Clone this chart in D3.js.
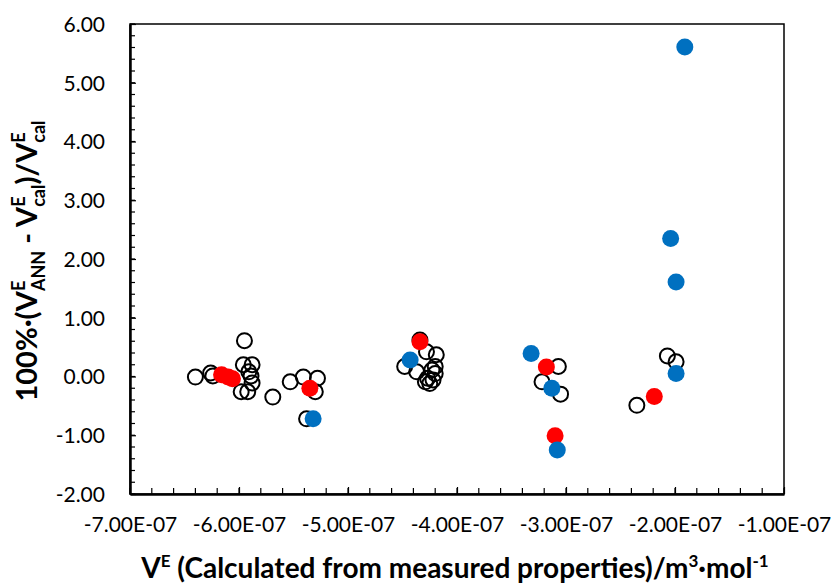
<!DOCTYPE html>
<html><head><meta charset="utf-8">
<script src="https://cdn.jsdelivr.net/npm/d3@7"></script>
<style>body{margin:0;background:#fff}svg{display:block}text{font-family:Lato,"Open Sans",sans-serif}</style>
</head><body><svg id="c" width="837" height="584"></svg>
<script>
// x in m3/mol, y in %
const openX = [-6.40e-7,-6.26e-7,-6.24e-7,-5.95e-7,-5.96e-7,-5.88e-7,-5.91e-7,-5.89e-7,-5.88e-7,-5.98e-7,-5.92e-7,-5.69e-7,-5.53e-7,-5.41e-7,-5.28e-7,-5.30e-7,-5.38e-7,
  -4.48e-7,-4.34e-7,-4.28e-7,-4.19e-7,-4.37e-7,-4.23e-7,-4.20e-7,-4.29e-7,-4.25e-7,-4.22e-7,-4.27e-7,-4.20e-7,
  -3.07e-7,-3.22e-7,-3.05e-7,
  -2.07e-7,-1.99e-7,-2.35e-7];
const openY = [-0.01,0.06,0.01,0.61,0.20,0.20,0.08,0.01,-0.11,-0.26,-0.26,-0.35,-0.09,-0.01,-0.03,-0.26,-0.72,
  0.17,0.62,0.42,0.37,0.08,0.11,0.05,-0.09,-0.12,-0.06,-0.03,0.17,
  0.17,-0.09,-0.30,
  0.35,0.25,-0.49];
const redX = [-6.16e-7,-6.10e-7,-6.06e-7,-5.35e-7,-4.34e-7,-3.18e-7,-3.10e-7,-2.19e-7];
const redY = [0.03,-0.01,-0.04,-0.20,0.59,0.16,-1.01,-0.34];
const blueX = [-5.32e-7,-4.43e-7,-3.32e-7,-3.13e-7,-3.08e-7,-1.91e-7,-2.04e-7,-1.99e-7,-1.99e-7];
const blueY = [-0.72,0.28,0.39,-0.20,-1.25,5.61,2.35,1.61,0.05];
const xTicks = [-7e-7,-6e-7,-5e-7,-4e-7,-3e-7,-2e-7,-1e-7];
const yTicks = [-2,-1,0,1,2,3,4,5,6];

const svg = d3.select("#c");
const L=130,R=784,T=24,B=494;
const x = d3.scaleLinear().domain([-7e-7,-1e-7]).range([L,R]);
const y = d3.scaleLinear().domain([-2,6]).range([B,T]);

const fmtX = v => v.toExponential(2).toUpperCase().replace(/E([+-])(\d)$/,"E$10$2");
const fmtY = v => v.toFixed(2);

// frame
svg.append("rect").attr("x",L).attr("y",T).attr("width",R-L).attr("height",B-T)
  .attr("fill","none").attr("stroke","#000").attr("stroke-width",1.5);

// minor ticks
const xMinor = d3.range(0,31).map(i=>-7e-7+i*0.2e-7);
const yMinor = d3.range(0,41).map(i=>-2+i*0.2);
svg.append("g").selectAll("line").data(xMinor).join("line")
  .attr("x1",d=>x(d)).attr("x2",d=>x(d)).attr("y1",B).attr("y2",B-6)
  .attr("stroke","#000").attr("stroke-width",1.2);
svg.append("g").selectAll("line").data(yMinor).join("line")
  .attr("y1",d=>y(d)).attr("y2",d=>y(d)).attr("x1",L).attr("x2",L+5)
  .attr("stroke","#000").attr("stroke-width",1.2);

// axes
const gx = svg.append("g").attr("transform",`translate(0,${B})`)
  .call(d3.axisBottom(x).tickValues(xTicks).tickFormat(fmtX).tickSizeInner(-7).tickSizeOuter(0).tickPadding(23));
const gy = svg.append("g").attr("transform",`translate(${L},0)`)
  .call(d3.axisLeft(y).tickValues(yTicks).tickFormat(fmtY).tickSizeInner(-6).tickSizeOuter(0).tickPadding(25));
[gx,gy].forEach(g=>{
  g.selectAll("text").attr("font-size",21).attr("fill","#000").style("font-family","Lato, 'Open Sans', sans-serif");
  g.selectAll("line").attr("stroke","#000").attr("stroke-width",1.2);
  g.select(".domain").attr("stroke","#000").attr("stroke-width",2.5);
});
gy.selectAll("text").attr("dy","0.35em");

// points
svg.append("g").selectAll("circle").data(openX.map((d,i)=>[d,openY[i]])).join("circle")
  .attr("cx",d=>x(d[0])).attr("cy",d=>y(d[1])).attr("r",7.5)
  .attr("fill","none").attr("stroke","#000").attr("stroke-width",2);
svg.append("g").selectAll("circle").data(redX.map((d,i)=>[d,redY[i]])).join("circle")
  .attr("cx",d=>x(d[0])).attr("cy",d=>y(d[1])).attr("r",8.5).attr("fill","#FF0000");
svg.append("g").selectAll("circle").data(blueX.map((d,i)=>[d,blueY[i]])).join("circle")
  .attr("cx",d=>x(d[0])).attr("cy",d=>y(d[1])).attr("r",8.5).attr("fill","#0070C0");

// x title
const xt = svg.append("text").attr("x",(L+R)/2-2).attr("y",578).attr("text-anchor","middle")
  .attr("font-size",28).attr("font-weight","bold").attr("fill","#000");
xt.append("tspan").text("V");
xt.append("tspan").attr("font-size",17).attr("dy",-11).text("E");
xt.append("tspan").attr("dy",11).text(" (Calculated from measured properties)/m");
xt.append("tspan").attr("font-size",17).attr("dy",-11).text("3");
xt.append("tspan").attr("dy",11).text("·mol");
xt.append("tspan").attr("font-size",17).attr("dy",-11).text("-1");

// y title
const yt = svg.append("text").attr("transform","translate(37,261) rotate(-90)").attr("text-anchor","middle")
  .attr("font-size",29).attr("font-weight","bold").attr("fill","#000");
function supsub(sup, sub){
  const e = yt.append("tspan").attr("font-size",18).attr("dy",-12).text(sup);
  const s = yt.append("tspan").attr("font-size",18).attr("dy",20).text(sub);
  return [e,s];
}
yt.append("tspan").text("100%·(V");
const p1 = supsub("E","ANN");
yt.append("tspan").attr("dy",-8).text(" - V");
const p2 = supsub("E","cal");
yt.append("tspan").attr("dy",-8).text(")/V");
const p3 = supsub("E","cal");
[p1,p2,p3].forEach(([e,s])=>{ s.attr("dx",-e.node().getComputedTextLength()); });
</script></body></html>
